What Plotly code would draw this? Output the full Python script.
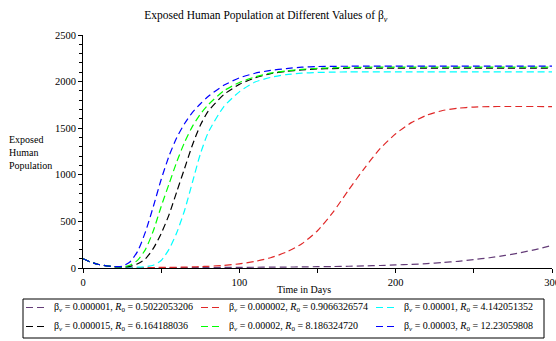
import plotly.graph_objects as go

# time points (days)
t = [0, 5, 10, 15, 20, 25, 30, 35, 40, 45, 50, 55, 60, 65, 70, 75, 80, 90, 100,
     110, 120, 130, 140, 150, 160, 170, 180, 190, 200, 210, 220, 230, 240, 250,
     260, 270, 280, 290, 300]

e_b1 = [100, 62, 38, 22, 13, 8, 6, 5, 4, 4, 4, 4, 4, 4, 4, 5, 5, 6, 7,
        8, 9, 10, 12, 14, 16, 19, 22, 27, 33, 39, 47, 58, 72, 90,
        110, 135, 165, 200, 242]
e_b2 = [100, 62, 38, 22, 13, 8, 6, 5, 5, 5, 6, 7, 8, 10, 12, 15, 18, 28, 45,
        70, 110, 170, 260, 400, 600, 840, 1070, 1280, 1440, 1560, 1640, 1690, 1715, 1727,
        1732, 1733, 1733, 1733, 1732]
e_b3 = [100, 62, 38, 23, 14, 9, 8, 9, 14, 30, 80, 200, 380, 620, 920, 1220, 1450, 1730, 1890,
        1995, 2045, 2075, 2090, 2098, 2102, 2104, 2105, 2105, 2105, 2105, 2105, 2105, 2105, 2105,
        2105, 2105, 2105, 2105, 2105]
e_b4 = [100, 62, 38, 23, 14, 10, 18, 45, 100, 210, 370, 570, 820, 1070, 1320, 1530, 1680, 1860, 1970,
        2040, 2085, 2110, 2126, 2136, 2140, 2143, 2144, 2145, 2145, 2145, 2145, 2145, 2145, 2145,
        2145, 2145, 2145, 2145, 2145]
e_b5 = [100, 62, 38, 23, 14, 12, 30, 85, 200, 400, 660, 900, 1140, 1350, 1520, 1650, 1750, 1900, 1990,
        2050, 2090, 2115, 2132, 2142, 2148, 2152, 2154, 2155, 2155, 2155, 2155, 2155, 2155, 2155,
        2155, 2155, 2155, 2155, 2155]
e_b6 = [100, 62, 38, 23, 15, 18, 65, 180, 390, 660, 950, 1200, 1400, 1550, 1670, 1760, 1840, 1960, 2040,
        2090, 2120, 2140, 2155, 2162, 2164, 2165, 2166, 2167, 2167, 2167, 2167, 2167, 2167, 2167,
        2167, 2167, 2167, 2167, 2167]

beta_labels = ["0.000001", "0.000002", "0.00001", "0.000015", "0.00002", "0.00003"]
r0_labels = ["0.5022053206", "0.9066326574", "4.142051352", "6.164188036", "8.186324720", "12.23059808"]
series = [e_b1, e_b2, e_b3, e_b4, e_b5, e_b6]
colors = ["#643c78", "#e02828", "#00ffff", "#000000", "#00ff00", "#0000ff"]

x_ticks = [0, 100, 200, 300]
y_ticks = [0, 500, 1000, 1500, 2000, 2500]

FONT = "Liberation Serif, Times New Roman, serif"
DASH = "7px,4px"

# layout geometry (pixels)
W, H = 556, 341
ML, MR, MT, MB = 83, 4, 35, 73
PW, PH = W - ML - MR, H - MT - MB


def px(x):
    return (x - ML) / PW


def py(y):
    return (H - MB - y) / PH


fig = go.Figure()
for ys, c in zip(series, colors):
    fig.add_trace(go.Scatter(
        x=t, y=ys, mode="lines", showlegend=False, hoverinfo="skip",
        line=dict(color=c, width=1.2, dash=DASH, shape="spline", smoothing=0.6),
    ))

fig.update_layout(
    width=W, height=H,
    margin=dict(l=ML, r=MR, t=MT, b=MB, autoexpand=False),
    paper_bgcolor="white", plot_bgcolor="white",
    font=dict(family=FONT, size=11, color="black"),
    title=dict(text="Exposed Human Population at Different Values of β<sub><i>v</i></sub>",
               x=0.478, xref="container", xanchor="center",
               y=0.955, yref="container", yanchor="middle",
               font=dict(family=FONT, size=11.5, color="black")),
    showlegend=False,
)

fig.update_xaxes(range=[0, 300], tickvals=x_ticks, showgrid=False, zeroline=False,
                 showline=True, linecolor="black", linewidth=1,
                 ticks="outside", ticklen=4, tickcolor="black",
                 ticklabeloverflow="allow",
                 minor=dict(dtick=50, ticklen=4, ticks="outside", tickcolor="black"),
                 tickfont=dict(family=FONT, size=10.5, color="black"))
fig.update_yaxes(range=[0, 2500], tickvals=y_ticks, showgrid=False, zeroline=False,
                 showline=True, linecolor="black", linewidth=1,
                 ticks="outside", ticklen=4, tickcolor="black",
                 minor=dict(dtick=100, ticklen=3, ticks="outside", tickcolor="black"),
                 tickfont=dict(family=FONT, size=10.5, color="black"))

fig.add_annotation(text="Exposed<br>Human<br>Population", xref="paper", yref="paper",
                   x=px(7), y=py(152), xanchor="left", yanchor="middle", align="left",
                   showarrow=False, font=dict(family=FONT, size=10, color="black"))
fig.add_annotation(text="Time in Days", xref="paper", yref="paper",
                   x=px(304), y=py(289), xanchor="center", yanchor="middle",
                   showarrow=False, font=dict(family=FONT, size=10, color="black"))

# legend box (drawn by hand so that three columns fit like the reference)
LEG_L, LEG_R, LEG_T, LEG_B = 23, 544, 299, 338
fig.add_shape(type="rect", xref="paper", yref="paper",
              x0=px(LEG_L), x1=px(LEG_R), y0=py(LEG_B), y1=py(LEG_T),
              line=dict(color="black", width=1), fillcolor="white", layer="above")
col_x = [26, 201, 376]
row_y = [307.5, 326.5]
for i, (b, r, c) in enumerate(zip(beta_labels, r0_labels, colors)):
    cx = col_x[i % 3]
    ry = row_y[i // 3]
    fig.add_shape(type="line", xref="paper", yref="paper",
                  x0=px(cx), x1=px(cx + 19), y0=py(ry), y1=py(ry),
                  line=dict(color=c, width=1.2, dash=DASH), layer="above")
    fig.add_annotation(text=f"β<sub><i>v</i></sub> = {b}, <i>R</i><sub>0</sub> = {r}",
                       xref="paper", yref="paper", x=px(cx + 26), y=py(ry),
                       xanchor="left", yanchor="middle", showarrow=False,
                       font=dict(family=FONT, size=10, color="black"))

fig.write_html("out.html", config={"displayModeBar": False},
               post_script="document.body.style.margin='0px';")
